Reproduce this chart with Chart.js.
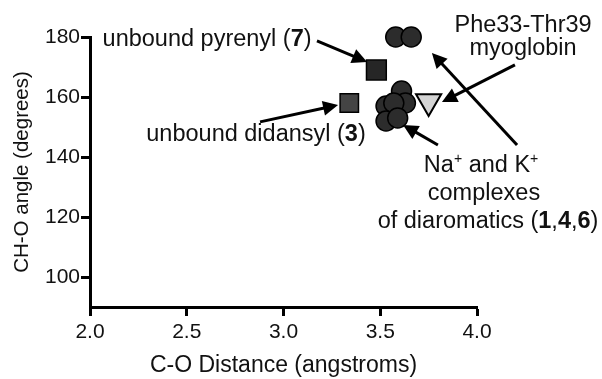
<!DOCTYPE html>
<html>
<head>
<meta charset="utf-8">
<script src="https://cdn.jsdelivr.net/npm/chart.js@4.4.1/dist/chart.umd.min.js"></script>
<style>
  html, body { margin: 0; padding: 0; background: #fff; }
  #wrap { width: 602px; height: 379px; position: relative; }
</style>
</head>
<body>
<div id="wrap"><canvas id="c" width="602" height="379"></canvas></div>
<script>
// ---- data ----
const xTickValues = [2.0, 2.5, 3.0, 3.5, 4.0];
const yTickValues = [100, 120, 140, 160, 180];

const pyrenylX = [3.48];
const pyrenylY = [169];

const didansylX = [3.34];
const didansylY = [158];

const complexX = [3.58, 3.66, 3.61, 3.53, 3.63, 3.57, 3.53, 3.59];
const complexY = [180, 180, 162, 157, 158, 158, 152, 153];

const myoglobinX = [3.75];
const myoglobinY = [158.5];

// annotation text anchors (data units): [x, y] baseline-centre
const labelTexts = [
  { at: [2.605, 177],  parts: [{t: 'unbound pyrenyl ('}, {t: '7', b: true}, {t: ')'}] },
  { at: [2.858, 145.3], parts: [{t: 'unbound didansyl ('}, {t: '3', b: true}, {t: ')'}] },
  { at: [4.238, 181.7], parts: [{t: 'Phe33-Thr39'}] },
  { at: [4.238, 174],  parts: [{t: 'myoglobin'}] },
  { at: [4.021, 135],  parts: [{t: 'Na'}, {t: '+', sup: true}, {t: ' and K'}, {t: '+', sup: true}] },
  { at: [4.036, 125.7], parts: [{t: 'complexes'}] },
  { at: [4.057, 116.3], parts: [{t: 'of diaromatics ('}, {t: '1', b: true}, {t: ','}, {t: '4', b: true}, {t: ','}, {t: '6', b: true}, {t: ')'}] }
];
// arrows (data units): from -> tip
const arrowFrom = [[3.173, 178.7], [2.879, 151.7], [4.196, 170.7], [4.207, 144], [3.798, 144]];
const arrowTip  = [[3.432, 171.7], [3.282, 157.3], [3.819, 158.3], [3.767, 174.7], [3.618, 150.7]];

const FONT = '"Liberation Sans", Arial, Helvetica, sans-serif';

function pts(xs, ys) { return xs.map((x, i) => ({x: x, y: ys[i]})); }

const annotations = {
  id: 'annotations',
  afterDatasetsDraw(chart) {
    const ctx = chart.ctx;
    const xs = chart.scales.x, ys = chart.scales.y;
    const P = (p) => [xs.getPixelForValue(p[0]), ys.getPixelForValue(p[1])];
    ctx.save();
    // arrows
    ctx.strokeStyle = '#000';
    ctx.fillStyle = '#000';
    ctx.lineWidth = 3;
    ctx.lineCap = 'butt';
    arrowFrom.forEach((f, i) => {
      const [x1, y1] = P(f), [x2, y2] = P(arrowTip[i]);
      const ang = Math.atan2(y2 - y1, x2 - x1);
      const hl = 15, hw = 7.5;
      const bx = x2 - hl * Math.cos(ang), by = y2 - hl * Math.sin(ang);
      ctx.beginPath();
      ctx.moveTo(x1, y1);
      ctx.lineTo(bx + 2 * Math.cos(ang), by + 2 * Math.sin(ang));
      ctx.stroke();
      ctx.beginPath();
      ctx.moveTo(x2, y2);
      ctx.lineTo(bx + hw * Math.sin(ang), by - hw * Math.cos(ang));
      ctx.lineTo(bx - hw * Math.sin(ang), by + hw * Math.cos(ang));
      ctx.closePath();
      ctx.fill();
    });
    // texts
    ctx.textBaseline = 'alphabetic';
    ctx.textAlign = 'left';
    ctx.fillStyle = '#111';
    const size = 23.5;
    const fontFor = (p) => (p.b ? 'bold ' : '') + (p.sup ? (size * 0.6) : size) + 'px ' + FONT;
    labelTexts.forEach(l => {
      const [cx, cy] = P(l.at);
      let total = 0;
      l.parts.forEach(p => { ctx.font = fontFor(p); total += ctx.measureText(p.t).width; });
      let x = cx - total / 2;
      l.parts.forEach(p => {
        ctx.font = fontFor(p);
        ctx.fillText(p.t, x, p.sup ? cy - size * 0.38 : cy);
        x += ctx.measureText(p.t).width;
      });
    });
    ctx.restore();
  }
};

new Chart(document.getElementById('c'), {
  type: 'scatter',
  data: {
    datasets: [
      { label: 'unbound pyrenyl (7)', data: pts(pyrenylX, pyrenylY), pointStyle: 'rect', pointRadius: 14,
        backgroundColor: '#262626', borderColor: '#000', borderWidth: 1.5, clip: false },
      { label: 'unbound didansyl (3)', data: pts(didansylX, didansylY), pointStyle: 'rect', pointRadius: 13,
        backgroundColor: '#444444', borderColor: '#000', borderWidth: 1.5, clip: false },
      { label: 'Na+ and K+ complexes of diaromatics (1,4,6)', data: pts(complexX, complexY), pointStyle: 'circle', pointRadius: 10,
        backgroundColor: '#2c2c2c', borderColor: '#000', borderWidth: 1.5, clip: false },
      { label: 'Phe33-Thr39 myoglobin', data: pts(myoglobinX, myoglobinY), pointStyle: 'triangle', rotation: 180, pointRadius: 14.5,
        backgroundColor: '#d4d4d4', borderColor: '#000', borderWidth: 2, clip: false }
    ]
  },
  options: {
    responsive: false,
    animation: false,
    layout: { padding: { top: 37, right: 125, left: 0, bottom: 0 } },
    plugins: { legend: { display: false }, tooltip: { enabled: false } },
    elements: { point: { hoverRadius: 0 } },
    scales: {
      x: {
        type: 'linear', min: 2.0, max: 4.0,
        afterBuildTicks: (s) => { s.ticks = xTickValues.map(v => ({value: v})); },
        afterFit: (s) => { s.height = 72; },
        ticks: { color: '#111', padding: 4, font: { family: FONT, size: 21 }, callback: (v) => Number(v).toFixed(1) },
        grid: { drawOnChartArea: false, drawTicks: true, tickLength: 9, tickWidth: 3, color: '#000' },
        border: { display: true, width: 3, color: '#000' },
        title: { display: true, text: 'C-O Distance (angstroms)', color: '#111', font: { family: FONT, size: 23 }, padding: { top: 0, bottom: 0 } }
      },
      y: {
        type: 'linear', min: 90, max: 180,
        afterBuildTicks: (s) => { s.ticks = yTickValues.map(v => ({value: v})); },
        afterFit: (s) => { s.width = 90; },
        ticks: { color: '#111', padding: 1, font: { family: FONT, size: 21 } },
        grid: { drawOnChartArea: false, drawTicks: true, tickLength: 9, tickWidth: 3, color: '#000' },
        border: { display: true, width: 3, color: '#000' },
        title: { display: true, text: 'CH-O angle (degrees)', color: '#111', font: { family: FONT, size: 20.5 }, padding: { top: 10, bottom: 0 } }
      }
    }
  },
  plugins: [annotations]
});
</script>
</body>
</html>
